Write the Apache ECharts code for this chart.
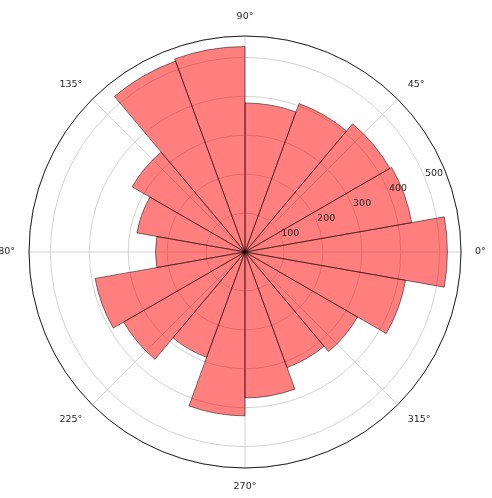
<!DOCTYPE html>
<html lang="en">
<head>
    <meta charset="UTF-8">
    <title>Polar bar</title>
    <style type="text/css">
        html, body { margin: 0; padding: 0; background: #fff; }
        #polarChart { width: 492px; height: 498px; }
    </style>
</head>
<body>
<section id="polarChart"></section>

<script src="https://cdn.jsdelivr.net/npm/echarts@6/dist/echarts.min.js"></script>
<script type="text/javascript">
    // bar directions (degrees, bar centred on each)
    var barAngles = ['0', '20', '40', '60', '80', '100', '120', '140', '160',
        '180', '200', '220', '240', '260', '280', '300', '320', '340'];
    // bar lengths
    var barValues = [520, 435, 430, 406, 383, 528, 522, 335, 282,
        230, 391, 360, 288, 421, 375, 316, 334, 419];
    // axis ticks
    var angleTicks = [0, 45, 90, 135, 180, 225, 270, 315];
    var radiusTicks = [100, 200, 300, 400, 500];
    var radiusMax = 555;

    var chart = echarts.init(document.getElementById('polarChart'));

    var labelFont = {
        fontFamily: 'DejaVu Sans',
        fontSize: 9.5,
        color: '#262626'
    };

    var option = {
        animation: false,
        textStyle: { fontFamily: 'DejaVu Sans' },
        polar: [
            // bars
            { center: [245, 252], radius: [0, 216] },
            // grid, angle labels
            { center: [245, 252], radius: [0, 216] },
            // radius labels, sitting along 22.5 deg
            { center: [245, 252], radius: [10, 226] }
        ],
        angleAxis: [
            {
                polarIndex: 0,
                type: 'category',
                data: barAngles,
                startAngle: -10,
                clockwise: false,
                boundaryGap: true,
                axisLine: { show: false },
                axisTick: { show: false },
                axisLabel: { show: false },
                splitLine: { show: false }
            },
            {
                polarIndex: 1,
                type: 'value',
                min: 0,
                max: 360,
                interval: angleTicks[1] - angleTicks[0],
                startAngle: 0,
                clockwise: false,
                axisLine: { show: true, lineStyle: { color: '#222', width: 1 } },
                axisTick: { show: false },
                axisLabel: Object.assign({
                    margin: 14,
                    formatter: function (v) { return v + '°'; }
                }, labelFont),
                splitLine: { show: true, lineStyle: { color: '#c8c8c8', width: 0.8 } }
            },
            {
                polarIndex: 2,
                type: 'value',
                min: 0,
                max: 360,
                startAngle: 22.5,
                clockwise: false,
                show: false
            }
        ],
        radiusAxis: [
            {
                polarIndex: 0,
                type: 'value',
                min: 0,
                max: radiusMax,
                show: false
            },
            {
                polarIndex: 1,
                type: 'value',
                min: 0,
                max: radiusMax,
                interval: radiusTicks[1] - radiusTicks[0],
                axisLine: { show: false },
                axisTick: { show: false },
                axisLabel: { show: false },
                splitLine: { show: true, lineStyle: { color: '#c8c8c8', width: 0.8 } }
            },
            {
                polarIndex: 2,
                type: 'value',
                min: 0,
                max: radiusMax,
                interval: radiusTicks[1] - radiusTicks[0],
                z: 10,
                axisLine: { show: false },
                axisTick: { show: false },
                splitLine: { show: false },
                axisLabel: Object.assign({
                    margin: 0,
                    align: 'center',
                    verticalAlign: 'middle',
                    showMinLabel: false,
                    showMaxLabel: false,
                    formatter: function (v) {
                        return radiusTicks.indexOf(v) >= 0 ? String(v) : '';
                    }
                }, labelFont)
            }
        ],
        series: [
            {
                type: 'bar',
                coordinateSystem: 'polar',
                polarIndex: 0,
                data: barValues,
                barCategoryGap: '0%',
                barGap: '0%',
                itemStyle: {
                    color: 'rgba(255, 0, 0, 0.5)',
                    borderColor: 'rgba(0, 0, 0, 0.5)',
                    borderWidth: 1
                },
                z: 3
            }
        ]
    };

    chart.setOption(option);
</script>
</body>
</html>
